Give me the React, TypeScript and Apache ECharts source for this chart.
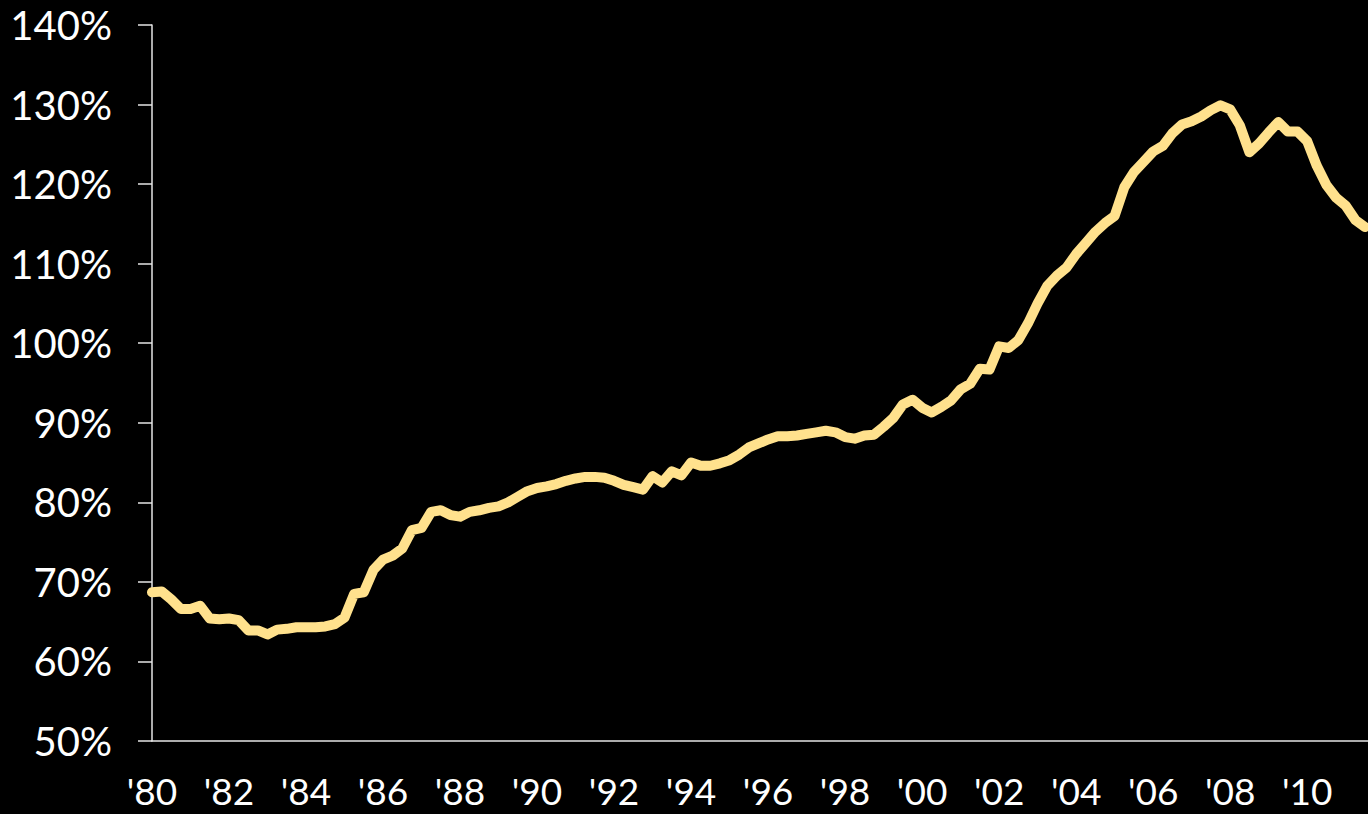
import React, { useEffect, useRef } from "react";
import * as echarts from "echarts";

// Quarterly series, 1980 Q1 onward (percent)
const startYear = 1980;
const values: number[] = [
  68.7, 68.8, 67.8, 66.6, // 1980
  66.6, 67.0, 65.4, 65.3, // 1981
  65.4, 65.2, 63.9, 63.9, // 1982
  63.4, 64.0, 64.1, 64.3, // 1983
  64.3, 64.3, 64.4, 64.7, // 1984
  65.5, 68.5, 68.7, 71.5, // 1985
  72.8, 73.3, 74.2, 76.5, // 1986
  76.8, 78.8, 79.0, 78.4, // 1987
  78.2, 78.8, 79.0, 79.3, // 1988
  79.5, 80.0, 80.7, 81.4, // 1989
  81.8, 82.0, 82.3, 82.7, // 1990
  83.0, 83.2, 83.2, 83.1, // 1991
  82.7, 82.2, 81.9, 81.6, // 1992
  83.3, 82.5, 83.9, 83.4, // 1993
  85.0, 84.6, 84.6, 84.9, // 1994
  85.3, 86.0, 86.9, 87.4, // 1995
  87.9, 88.3, 88.3, 88.4, // 1996
  88.6, 88.8, 89.0, 88.8, // 1997
  88.2, 88.0, 88.4, 88.5, // 1998
  89.5, 90.6, 92.3, 92.9, // 1999
  91.9, 91.3, 92.0, 92.8, // 2000
  94.2, 94.9, 96.8, 96.7, // 2001
  99.6, 99.4, 100.4, 102.5, // 2002
  105.0, 107.2, 108.5, 109.5, // 2003
  111.2, 112.6, 114.0, 115.1, // 2004
  116.0, 119.6, 121.5, 122.8, // 2005
  124.1, 124.8, 126.4, 127.5, // 2006
  127.9, 128.5, 129.3, 129.9, // 2007
  129.4, 127.4, 124.0, 125.1, // 2008
  126.5, 127.8, 126.6, 126.6, // 2009
  125.4, 122.3, 119.9, 118.3, // 2010
  117.3, 115.5, 114.6, // 2011
];

const yTicks = { min: 50, max: 140, interval: 10 };
const xTicks = { min: 1980, max: 2011.58, interval: 2 };

export default function App() {
  const ref = useRef<HTMLDivElement>(null);

  useEffect(() => {
    document.body.style.margin = "0";
    document.body.style.background = "#000";
    if (!ref.current) return;
    const chart = echarts.init(ref.current, undefined, { renderer: "svg" });
    const data = values.map((v, i) => [startYear + i / 4, v]);
    const font = "Lato, 'Open Sans', sans-serif";
    chart.setOption({
      animation: false,
      backgroundColor: "#000",
      grid: { left: 152, right: 0, top: 25, bottom: 73, containLabel: false },
      xAxis: {
        type: "value",
        min: xTicks.min,
        max: xTicks.max,
        interval: xTicks.interval,
        axisLine: { show: true, lineStyle: { color: "#e6e6e6", width: 1.5 } },
        axisTick: { show: false },
        splitLine: { show: false },
        axisLabel: {
          color: "#fff",
          fontSize: 37,
          lineHeight: 37,
          fontFamily: font,
          margin: 31,
          showMaxLabel: false,
          formatter: (v: number) =>
            Number.isInteger(v) && v % 2 === 0 ? "'" + String(v).slice(2) : "",
        },
      },
      yAxis: {
        type: "value",
        min: yTicks.min,
        max: yTicks.max,
        interval: yTicks.interval,
        axisLine: { show: true, lineStyle: { color: "#e6e6e6", width: 1.5 } },
        axisTick: {
          show: true,
          inside: false,
          length: 14,
          lineStyle: { color: "#e6e6e6", width: 1.5 },
        },
        splitLine: { show: false },
        axisLabel: {
          color: "#fff",
          fontSize: 40,
          fontFamily: font,
          margin: 40,
          formatter: (v: number) => v + "%",
        },
      },
      series: [
        {
          type: "line",
          data,
          showSymbol: false,
          symbol: "none",
          clip: false,
          lineStyle: {
            color: "#FFE18D",
            width: 10,
            cap: "round",
            join: "round",
          },
        },
      ],
    });
    return () => chart.dispose();
  }, []);

  return (
    <div
      ref={ref}
      style={{
        position: "fixed",
        left: 0,
        top: 0,
        width: 1368,
        height: 814,
        background: "#000",
      }}
    />
  );
}
